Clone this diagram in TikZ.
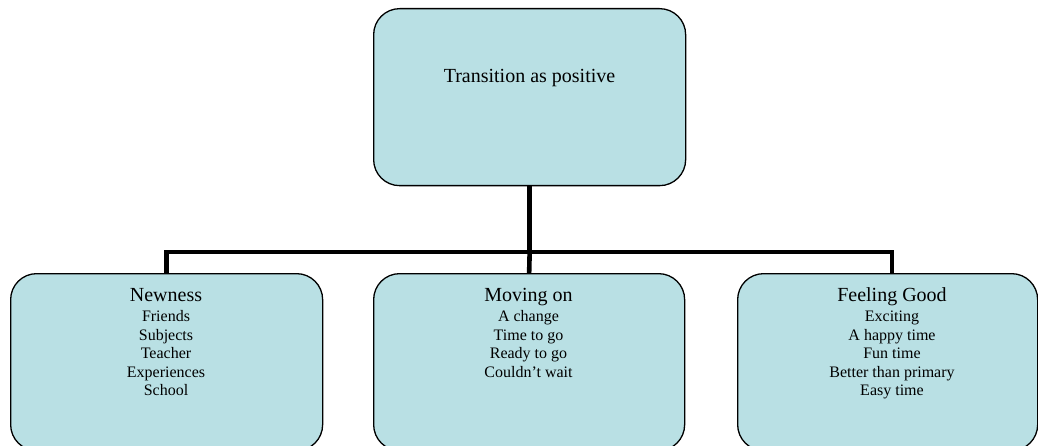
\documentclass[tikz,border=0pt]{standalone}
\usepackage{fontspec}
\setmainfont{Liberation Serif}
\definecolor{boxfill}{RGB}{185,224,228}
\begin{document}
\begin{tikzpicture}[x=1pt,y=-1pt,
  box/.style={draw=black, line width=1.3pt, fill=boxfill, rounded corners=26pt,
    inner sep=0pt, anchor=north west, minimum height=177pt},
  conn/.style={draw=black, line width=4.6pt, line join=miter},
  head/.style={anchor=base, inner sep=0pt, font=\fontsize{20}{24}\selectfont},
  lst/.style={anchor=base, inner sep=0pt, font=\fontsize{16}{18.5}\selectfont}]
\useasboundingbox (0,0) rectangle (1038,446);
\node[box, minimum width=312pt] (top) at (373,8) {};
\node[box, minimum width=312pt] (newness) at (10,273) {};
\node[box, minimum width=311pt] (moving) at (373,273) {};
\node[box, minimum width=300pt] (feeling) at (737,273) {};

\node[head] (ttext) at (529.5,83) {Transition as positive};
\node[lst] (ntext) at (166,301.7) {\begin{tabular}[t]{@{}c@{}}{\fontsize{20}{24}\selectfont Newness}\\[1.5pt]
  Friends\\ Subjects\\ Teacher\\ Experiences\\ School\end{tabular}};
\node[lst] (mtext) at (528.5,301.7) {\begin{tabular}[t]{@{}c@{}}{\fontsize{20}{24}\selectfont Moving on}\\[1.5pt]
  A change\\ Time to go\\ Ready to go\\ Couldn’t wait\end{tabular}};
\node[lst] (ftext) at (892,301.7) {\begin{tabular}[t]{@{}c@{}}{\fontsize{20}{24}\selectfont Feeling Good}\\[1.5pt]
  Exciting\\ A happy time\\ Fun time\\ Better than primary\\ Easy time\end{tabular}};

\coordinate (hub) at (top.south |- 0,252);
\draw[conn] (top.south) -- (hub);
\draw[conn] (newness.north) |- (hub) -| (ftext |- feeling.north);
\draw[conn] (hub) -- (moving.north);
\end{tikzpicture}
\end{document}
